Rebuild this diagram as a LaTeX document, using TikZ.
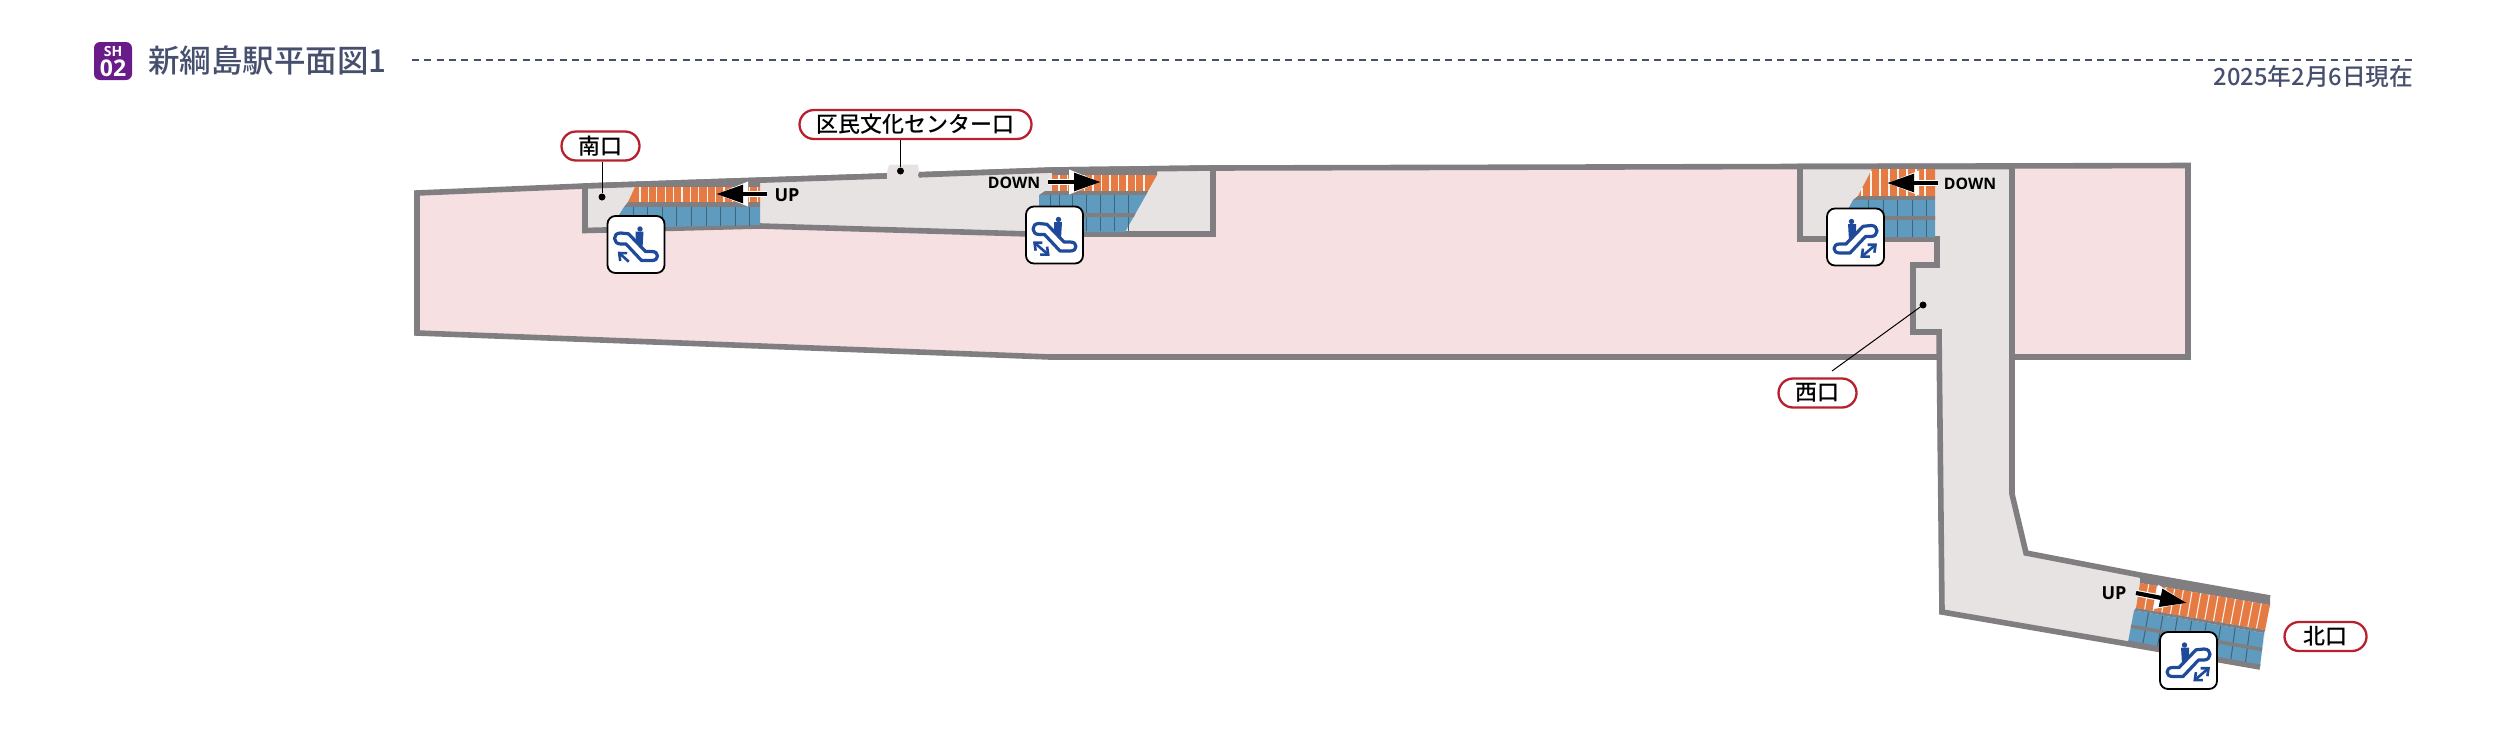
\documentclass[tikz,border=0pt]{standalone}
\usepackage{fontspec}
\setmainfont{Noto Sans CJK JP Medium}
\newfontfamily\osfont{Open Sans}
\usetikzlibrary{calc,arrows.meta}
\definecolor{pinkf}{HTML}{F6E0E2}
\definecolor{wallc}{HTML}{807E80}
\definecolor{floorc}{HTML}{E6E3E2}
\definecolor{orangec}{HTML}{E57A43}
\definecolor{bluec}{HTML}{5F9BBF}
\definecolor{iconc}{HTML}{1F4A9C}
\definecolor{headc}{HTML}{46506E}
\definecolor{purplec}{HTML}{6A1B8A}
\definecolor{redc}{HTML}{B8202E}
\tikzset{
  wall/.style={draw=wallc,line width=5.6pt,line join=miter},
  pill/.style={draw=redc,line width=2.3pt,fill=white,rounded corners=14.5pt,minimum height=29pt,inner sep=0pt,text=black,font=\fontsize{22}{22}\selectfont},
  leader/.style={draw=black,line width=1pt},
  dotm/.style={fill=black,circle,inner sep=0pt,minimum size=7pt},
  ostripe/.style={draw=white!90!orangec,line width=1.1pt},
  bstripe/.style={draw=black!35!bluec,line width=1pt},
  dirtext/.style={font=\osfont\bfseries\fontsize{15.8}{15.8}\selectfont,text=black,inner sep=0pt},
  uptext/.style={font=\osfont\bfseries\fontsize{18}{18}\selectfont,text=black,inner sep=0pt},
  iconbox/.style={draw=black,line width=1.8pt,fill=white,rounded corners=8pt},
  iconline/.style={draw=iconc,line width=3.2pt,line join=round},
  barb/.style={iconc,line width=2.6pt},
}
\newcommand{\escicon}[6]{%
  \draw[iconbox] (#1,#2) rectangle ++(57,57);
  \begin{scope}[shift={(#1+28.5,#2)},xscale=#3]
    \begin{scope}[shift={(-28.5,0)}]
      \draw[iconline] (12.7,35.5) -- (19,35.5) -- (36,17.8) -- (44,17)
        .. controls (48,17) and (50,19.5) .. (50,22.5)
        .. controls (50,25.5) and (47.5,28) .. (44,28)
        -- (38.5,28) -- (23,44.5) -- (12.7,44.5)
        .. controls (9,44.5) and (7,42.5) .. (7,40)
        .. controls (7,37.5) and (9,35.5) .. (12.7,35.5) -- cycle;
      \fill[iconc] (24.5,13) circle (2.7);
      \fill[iconc] (21,15.5) -- (29,15.5) -- (29,25) -- (22,32) -- cycle;
      \draw[barb,#4] (#5) -- (#6);
    \end{scope}
  \end{scope}}
\begin{document}
\begin{tikzpicture}[x=1pt,y=-1pt]
\useasboundingbox (0,0) rectangle (2500,737);
% header
\fill[purplec,rounded corners=6pt] (94,42) rectangle (132,80);
\node[inner sep=0pt,text=white,font=\osfont\bfseries\fontsize{14}{14}\selectfont] (sh) at (113,51) {SH};
\node[inner sep=0pt,text=white,font=\osfont\bfseries\fontsize{23}{23}\selectfont] (no) at (113,68.5) {02};
\node[anchor=west,inner sep=0pt,text=headc,font=\fontsize{31.5}{31.5}\selectfont] (title) at (148,60.5) {新綱島駅平面図1};
\node[anchor=east,inner sep=0pt,text=headc,font=\fontsize{23.7}{23.7}\selectfont] (date) at (2413.5,77) {2025年2月6日現在};
\coordinate (d1) at (412,60); \coordinate (d2) at (2413,60);
\draw[headc,line width=1.8pt,dash pattern=on 7pt off 5.3pt] (d1) -- (d2);
% main pink body
\path[fill=pinkf,wall] (417,193) -- (585,186) -- (885,176) -- (1053,170) -- (1213,168) -- (2188,165.5) -- (2188,357) -- (1050,357) -- (417,333) -- cycle;
% south passage
\path[fill=floorc,wall] (585,186) -- (885,176) -- (1053,170) -- (1213,168) -- (1213,234) -- (1030,234) -- (760,226) -- (585,230.5) -- cycle;
% entrance
\fill[floorc] (887,172) -- (889,165) -- (918,164.5) -- (919,172) -- (919,181) -- (887,181) -- cycle;
\fill[wallc] (884.5,176) circle (2.5);
\fill[wallc] (920.5,175) circle (2.5);
% corridor and west room
\fill[floorc] (1800,166) -- (2012,166) -- (2012,494) -- (2026,553) -- (2140,575) -- (2270,598) -- (2260,667) -- (2128,644) -- (1942,612) -- (1939,332) -- (1913,332) -- (1913,265) -- (1937,265) -- (1937,239) -- (1800,239) -- cycle;
\path[wall] (2270,598) -- (2140,575) -- (2026,553) -- (2012,494) -- (2012,166.5) -- (1800,166.5) -- (1800,239) -- (1937,239) -- (1937,265) -- (1913,265) -- (1913,332) -- (1939,332) -- (1942,612) -- (2128,644) -- (2260,667);
% stairs south
\fill[floorc] (760,184.5) -- (775,184) -- (775,190) -- (760,190) -- cycle;
\fill[wallc] (635,183) -- (760,179) -- (760,187) -- (635,187) -- cycle;
\fill[wallc] (628,202) -- (760,202) -- (760,207) -- (624,207) -- cycle;
\fill[orangec] (635,187) -- (760,187) -- (760,202) -- (628,202) -- cycle;
\foreach \x in {640,648.4,...,758} \draw[ostripe] (\x,187) -- (\x,202);
\fill[bluec] (624,207) -- (760,207) -- (760,225) -- (611,228) -- cycle;
\foreach \x in {633,647.6,...,755} \draw[bstripe] (\x,207) -- (\x,226);
% stairs bunka center
\fill[wallc] (1052,169) -- (1157,168) -- (1157,175) -- (1052,175) -- cycle;
\fill[orangec] (1052,175) -- (1157,175) -- (1148,191) -- (1052,191) -- cycle;
\foreach \x in {1059,1067.5,...,1149} \draw[ostripe] (\x,175) -- (\x,191);
\fill[wallc] (1045,191) -- (1148,191) -- (1146,195) -- (1039,195) -- cycle;
\fill[bluec] (1039,195) -- (1146,195) -- (1125,232) -- (1039,232) -- cycle;
\foreach \x in {1050,1059.5,1072,1086,1100,1114,1128} \draw[bstripe] (\x,195) -- (\x,231);
\fill[wallc] (1039,213) -- (1135.5,213) -- (1134,217) -- (1039,217) -- cycle;
% stairs west
\fill[wallc] (1872,164) -- (1936,164) -- (1936,169) -- (1872,169) -- cycle;
\fill[orangec] (1872,169) -- (1935,169) -- (1935,196) -- (1858,196) -- cycle;
\foreach \x in {1862,1871,...,1932} \draw[ostripe] (\x,{max(169,169+(1872-\x)*1.9)}) -- (\x,196);
\fill[wallc] (1858,196) -- (1935,196) -- (1935,200) -- (1853,200) -- cycle;
\fill[bluec] (1853,200) -- (1935,200) -- (1935,237) -- (1833,237) -- cycle;
\foreach \x in {1868,1883,1897,1912.5,1926.5} \draw[bstripe] (\x,200) -- (\x,237);
\fill[wallc] (1843,216) -- (1935,216) -- (1935,220) -- (1841,220) -- cycle;
% stairs north
\coordinate (nt1) at (2140,575); \coordinate (nt2) at (2270,598);
\coordinate (no1) at (2140,583); \coordinate (no2) at (2270,605);
\coordinate (nb1) at (2136,608); \coordinate (nb2) at (2265,630);
\coordinate (nc1) at (2134,610.5); \coordinate (nc2) at (2264,633);
\coordinate (nd1) at (2128,642); \coordinate (nd2) at (2260,666);
\fill[wallc] (nt1) -- (nt2) -- (no2) -- (no1) -- cycle;
\fill[orangec] (no1) -- (no2) -- (nb2) -- (nb1) -- cycle;
\foreach \i in {1,...,14} \draw[ostripe] ($(no1)!\i/15!(no2)$) -- ($(nb1)!\i/15!(nb2)$);
\fill[wallc] (nb1) -- (nb2) -- (nc2) -- (nc1) -- cycle;
\fill[bluec] (nc1) -- (nc2) -- (nd2) -- (nd1) -- cycle;
\foreach \i in {1,...,8} \draw[bstripe] ($(nc1)!\i/9!(nc2)$) -- ($(nd1)!\i/9!(nd2)$);
\draw[wallc,line width=3.5pt] ($(nc1)!.5!(nd1)$) -- ($(nc2)!.5!(nd2)$);
\draw[wallc,line width=3pt] (nd1) -- (nd2);
% icons
\def\bb{Straight Barb[length=6pt,width=10.5pt]}
\escicon{607.5}{216}{-1}{-{\bb}}{35.7,45.7}{46.7,35.7}
\escicon{1026}{206.5}{-1}{{\bb}-{\bb}}{33.3,49.3}{50,35}
\escicon{1827}{208.5}{1}{{\bb}-{\bb}}{33.3,49.3}{50,35}
\escicon{2160}{632}{1}{{\bb}-{\bb}}{33.3,49.3}{50,35}
% direction arrows
\tikzset{
  dirw/.style={draw=white,line width=6.4pt,-{Triangle[length=32pt,width=23pt]}},
  dirb/.style={draw=black,line width=4.2pt,-{Triangle[length=27pt,width=17.5pt]}},
}
\coordinate (a1t) at (767,194); \coordinate (a1h) at (716,194);
\coordinate (a2t) at (1048,182); \coordinate (a2h) at (1101,182);
\coordinate (a3t) at (1938,183); \coordinate (a3h) at (1887,183);
\coordinate (a4t) at (2136,593); \coordinate (a4h) at (2187,603);
\foreach \p in {1,2,3,4} {
  \draw[dirw] (a\p t) -- (a\p h);
  \draw[dirb] (a\p t) -- (a\p h);
}
\node[uptext] (up1) at (787,195) {UP};
\node[dirtext] (dn2) at (1014,183) {DOWN};
\node[dirtext] (dn3) at (1970,184) {DOWN};
\node[uptext] (up4) at (2114,593) {UP};
% labels and leaders
\node[pill,minimum width=78pt] (south) at (600.5,146) {南口};
\node[pill,minimum width=232pt] (bunka) at (915.5,124.5) {区民文化センター口};
\node[pill,minimum width=78pt] (west) at (1817.5,393) {西口};
\node[pill,minimum width=82pt] (north) at (2325.5,636.5) {北口};
\node[dotm] (ds) at (602,197) {};
\node[dotm] (db) at (900.5,171) {};
\node[dotm] (dw) at (1923,305) {};
\coordinate (wl) at (1832,371);
\draw[leader] (south.south -| ds) -- (ds);
\draw[leader] (bunka.south -| db) -- (db);
\draw[leader] (wl) -- (dw);
\end{tikzpicture}
\end{document}
